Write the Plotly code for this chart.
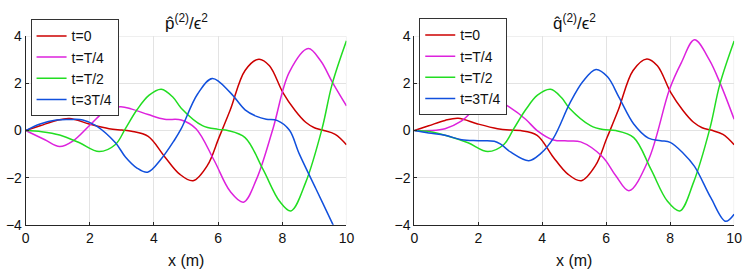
import plotly.graph_objects as go

# ---------------- data ----------------
# Left panel: p^(2)/eps^2
p_t0_x = [0, 0.45, 0.96, 1.37, 1.98, 2.6, 3.0, 3.3, 3.82, 4.34, 4.8, 5.22, 5.67, 6.02, 6.38, 6.84, 7.27, 7.6, 8.02, 8.4, 8.73, 9.0, 9.25, 9.65, 10]
p_t0_y = [0, 0.2, 0.43, 0.51, 0.28, 0.08, 0.02, -0.03, -0.25, -1.12, -1.85, -2.13, -1.47, -0.32, 0.88, 2.55, 3.03, 2.75, 1.61, 0.85, 0.35, 0.12, 0.02, -0.16, -0.6]

p_tT4_x = [0, 0.6, 1.06, 1.47, 2.04, 2.5, 2.96, 3.31, 3.82, 4.33, 4.85, 5.31, 5.87, 6.38, 6.79, 7.2, 7.71, 8.22, 8.81, 9.2, 9.55, 10]
p_tT4_y = [0, -0.39, -0.68, -0.45, 0.28, 0.84, 1.01, 0.91, 0.68, 0.48, 0.45, 0.08, -1.25, -2.59, -3.04, -2.05, 0.08, 2.48, 3.48, 2.95, 2.08, 1.05]

p_tT2_x = [0, 0.5, 1.06, 1.68, 2.29, 2.8, 3.11, 3.47, 3.85, 4.23, 4.6, 4.85, 5.51, 6.0, 6.3, 6.84, 7.4, 7.91, 8.27, 8.73, 9.24, 9.55, 10]
p_tT2_y = [0, -0.05, -0.19, -0.52, -0.89, -0.59, 0.08, 0.88, 1.5, 1.75, 1.4, 0.95, 0.21, 0.05, 0.0, -0.3, -1.65, -2.99, -3.41, -2.2, 0.08, 1.95, 3.81]

p_t3T4_x = [0, 0.45, 0.96, 1.37, 1.78, 2.19, 2.8, 3.11, 3.47, 3.8, 4.23, 4.64, 4.85, 5.36, 5.82, 6.38, 6.84, 7.2, 7.5, 7.85, 8.22, 8.53, 9.04, 9.58, 10]
p_t3T4_y = [0, 0.28, 0.45, 0.47, 0.45, 0.21, -0.52, -1.12, -1.59, -1.77, -1.2, -0.4, 0.08, 1.55, 2.21, 1.61, 0.88, 0.6, 0.48, 0.42, 0.02, -0.99, -2.45, -3.99, -5.2]

# Right panel: q^(2)/eps^2
q_t0_x = [0, 0.45, 0.96, 1.37, 1.98, 2.6, 3.0, 3.32, 3.84, 4.34, 4.8, 5.22, 5.67, 6.02, 6.38, 6.84, 7.27, 7.6, 8.02, 8.4, 8.73, 9.0, 9.27, 9.65, 10]
q_t0_y = [0, 0.2, 0.43, 0.52, 0.28, 0.08, 0.02, 0.0, -0.2, -1.12, -1.85, -2.13, -1.47, -0.32, 0.88, 2.55, 3.04, 2.75, 1.61, 0.85, 0.35, 0.12, 0.02, -0.16, -0.6]

q_tT4_x = [0, 0.5, 0.96, 1.48, 1.99, 2.55, 3.02, 3.48, 3.84, 4.35, 4.8, 5.2, 5.89, 6.3, 6.71, 7.32, 7.98, 8.35, 8.76, 9.22, 9.58, 10]
q_tT4_y = [0, 0.0, 0.08, 0.41, 1.01, 1.28, 0.95, 0.48, 0.0, -0.4, -0.44, -0.48, -1.12, -1.92, -2.55, -1.25, 1.75, 2.88, 3.85, 3.01, 1.95, 0.48]

q_tT2_x = [0, 0.5, 0.96, 1.68, 2.3, 2.8, 3.11, 3.48, 3.85, 4.26, 4.6, 4.85, 5.51, 5.9, 6.3, 6.86, 7.4, 7.91, 8.3, 8.73, 9.24, 9.55, 10]
q_tT2_y = [0, -0.05, -0.2, -0.52, -0.89, -0.59, 0.08, 0.88, 1.5, 1.75, 1.4, 0.95, 0.21, 0.04, 0.0, -0.3, -1.65, -2.99, -3.41, -2.2, 0.08, 1.95, 3.8]

q_t3T4_x = [0, 0.45, 0.96, 1.48, 2.0, 2.5, 2.71, 3.02, 3.58, 3.94, 4.35, 4.86, 5.27, 5.68, 6.04, 6.4, 6.86, 7.32, 7.7, 8.0, 8.4, 8.76, 9.27, 9.73, 10]
q_t3T4_y = [0, -0.1, -0.2, -0.39, -0.43, -0.45, -0.59, -0.92, -1.28, -0.99, -0.32, 1.15, 2.08, 2.59, 2.28, 1.41, 0.28, -0.32, -0.43, -0.5, -0.95, -1.52, -2.85, -3.85, -3.55]

series_names = ["t=0", "t=T/4", "t=T/2", "t=3T/4"]
series_colors = ["#cc0000", "#dd22dd", "#22dd22", "#1150dd"]
x_ticks = [0, 2, 4, 6, 8, 10]
y_ticks = [-4, -2, 0, 2, 4]
titles = ["p\u0302<sup>(2)</sup>/\u03f5<sup>2</sup>", "q\u0302<sup>(2)</sup>/\u03f5<sup>2</sup>"]
x_label = "x (m)"

left = [(p_t0_x, p_t0_y), (p_tT4_x, p_tT4_y), (p_tT2_x, p_tT2_y), (p_t3T4_x, p_t3T4_y)]
right = [(q_t0_x, q_t0_y), (q_tT4_x, q_tT4_y), (q_tT2_x, q_tT2_y), (q_t3T4_x, q_t3T4_y)]

# ---------------- figure ----------------
W, H = 751, 279
FONT = "Liberation Sans, Arial, Helvetica, sans-serif"
TXT = "#262626"
GRID = "#e3e3e3"

fig = go.Figure()
for panel, (data, xa, ya, lg) in enumerate([(left, "x", "y", "legend"), (right, "x2", "y2", "legend2")]):
    for (xs, ys), name, col in zip(data, series_names, series_colors):
        fig.add_trace(go.Scatter(
            x=xs, y=ys, name=name, mode="lines",
            line=dict(color=col, width=1.5, shape="spline", smoothing=1.0),
            xaxis=xa, yaxis=ya, legend=lg, cliponaxis=True,
        ))

dom_left = [22 / W, 348 / W]
dom_right = [417 / W, 742 / W]
dom_y = [(H - 230) / H, (H - 30) / H]

ax_common = dict(
    showgrid=True, gridcolor=GRID, gridwidth=1, zeroline=False,
    showline=True, linecolor=TXT, linewidth=1, mirror=False,
    ticks="inside", ticklen=3, tickcolor=TXT,
    tickfont=dict(family=FONT, size=14, color="#111111"),
)

legend_common = dict(xanchor="left", yanchor="top",
                     bgcolor="white", bordercolor="#333333", borderwidth=1,
                     font=dict(family=FONT, size=14, color="#111111"),
                     itemwidth=30, tracegroupgap=0)

fig.update_layout(
    width=W, height=H,
    margin=dict(l=0, r=0, t=0, b=0),
    paper_bgcolor="white", plot_bgcolor="white",
    font=dict(family=FONT, color=TXT),
    xaxis=dict(domain=dom_left, range=[0, 10], tickvals=x_ticks, anchor="y", **ax_common),
    yaxis=dict(domain=dom_y, range=[-4, 4], tickvals=y_ticks, anchor="x", **ax_common),
    xaxis2=dict(domain=dom_right, range=[0, 10], tickvals=x_ticks, anchor="y2", **ax_common),
    yaxis2=dict(domain=dom_y, range=[-4, 4], tickvals=y_ticks, anchor="x2", **ax_common),
    legend=dict(x=27 / W, y=1 - 12 / H, **legend_common),
    legend2=dict(x=422 / W, y=1 - 11 / H, **legend_common),
    showlegend=True,
)

# light box edges (top/right) like the MATLAB grid box
for xr, yr in [("x", "y"), ("x2", "y2")]:
    fig.add_shape(type="line", xref=xr, yref=yr, x0=0, x1=10, y0=4, y1=4,
                  line=dict(color=GRID, width=1), layer="below")
    fig.add_shape(type="line", xref=xr, yref=yr, x0=10, x1=10, y0=-4, y1=4,
                  line=dict(color=GRID, width=1), layer="below")

# titles and x labels
for i, dom in enumerate([dom_left, dom_right]):
    cx = (dom[0] + dom[1]) / 2
    fig.add_annotation(x=cx, y=1 - 15 / H, xref="paper", yref="paper",
                       text=titles[i], showarrow=False, xanchor="center", yanchor="middle",
                       font=dict(family=FONT, size=17, color="#111111"))
    fig.add_annotation(x=cx, y=1 - 268 / H, xref="paper", yref="paper",
                       text=x_label, showarrow=False, xanchor="center", yanchor="middle",
                       font=dict(family=FONT, size=16, color="#111111"))

fig.write_html("out.html",
               config={"displayModeBar": False},
               post_script="document.body.style.margin='0';document.body.style.padding='0';")
